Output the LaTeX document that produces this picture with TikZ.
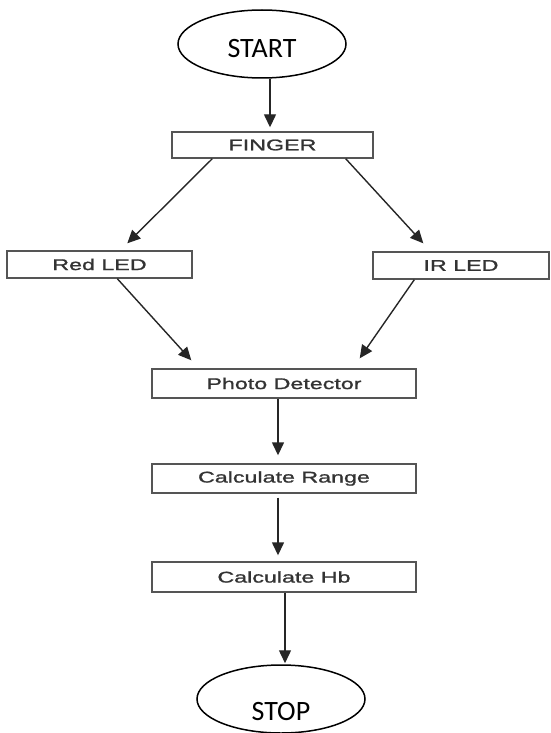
\documentclass[tikz,border=0pt]{standalone}
\usepackage{fontspec}
\usepackage{tikz}
\usetikzlibrary{arrows.meta,shapes.geometric}
\newfontfamily\termfont{Carlito}
\newfontfamily\boxfont[FakeStretch=1.5,FakeBold=1.3]{Liberation Sans}
\definecolor{boxtext}{HTML}{333333}
\definecolor{boxline}{HTML}{555555}
\tikzset{
  terminal/.style={draw=black,line width=1.5pt,ellipse,minimum width=168pt,minimum height=68pt,
    inner sep=0pt,font=\termfont\fontsize{28}{30}\selectfont,text depth=0pt},
  stepbox/.style={draw=boxline,line width=1.4pt,rectangle,inner sep=0pt,minimum height=28pt,
    text=boxtext,font=\boxfont\fontsize{15.5}{17}\selectfont},
  arr/.style={draw=black!85,line width=1.4pt,-{Triangle[length=13pt,width=12pt]}}
}

\begin{document}
\begin{tikzpicture}[x=1pt,y=-1pt]
\useasboundingbox (0,0) rectangle (551,733);
\draw node[terminal,text height=28pt] (start) at (262,44) {START};
\draw node[stepbox,minimum width=201pt,minimum height=26pt] (finger) at (272.5,145) {FINGER};
\draw node[stepbox,minimum width=185pt,minimum height=27pt] (redled) at (99.5,264.5) {Red LED};
\draw node[stepbox,minimum width=176pt,minimum height=27pt] (irled) at (461,265.5) {IR LED};
\draw node[stepbox,minimum width=264pt,minimum height=29pt] (photo) at (284,383.5) {Photo Detector};
\draw node[stepbox,minimum width=264pt,minimum height=29pt] (range) at (284,478.5) {Calculate Range};
\draw node[stepbox,minimum width=264pt,minimum height=30pt] (hb) at (284,577) {Calculate Hb};
\draw node[terminal,text height=42pt] (stop) at (281,699) {STOP};
% connectors
\draw[arr] ([xshift=8pt]start.south) -- ([xshift=-2.5pt,yshift=4pt]finger.north);
\draw[arr] ([xshift=41pt]finger.south west) -- ([xshift=121pt,yshift=7pt]redled.north west);
\draw[arr] ([xshift=-28pt]finger.south east) -- ([xshift=51pt,yshift=8pt]irled.north west);
\draw[arr] ([xshift=111pt]redled.south west) -- ([xshift=40pt,yshift=8pt]photo.north west);
\draw[arr] ([xshift=42pt]irled.south west) -- ([xshift=-57pt,yshift=10pt]photo.north east);
\draw[arr] ([xshift=-6pt]photo.south) -- ([xshift=-6pt,yshift=8pt]range.north);
\draw[arr] ([xshift=-6pt,yshift=-4pt]range.south) -- ([xshift=-6pt,yshift=6pt]hb.north);
\draw[arr] ([xshift=1pt]hb.south) -- ([xshift=4pt,yshift=1pt]stop.north);
\end{tikzpicture}
\end{document}
